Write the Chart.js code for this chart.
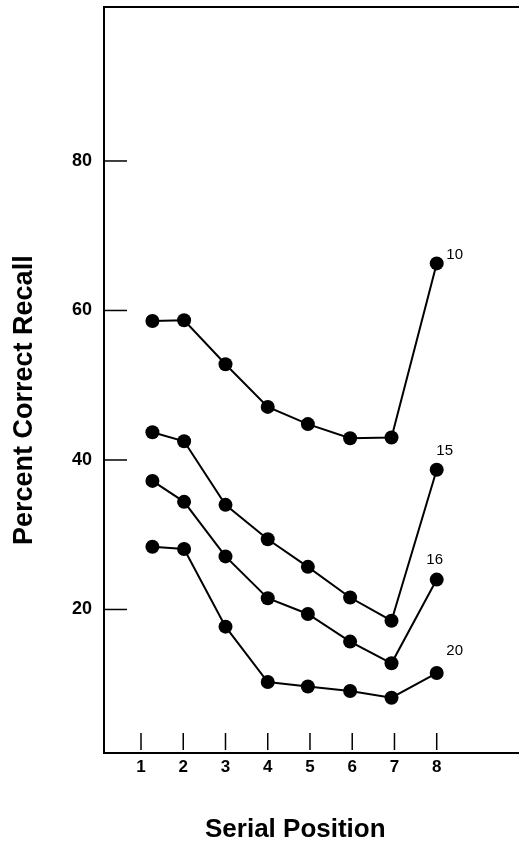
<!DOCTYPE html>
<html>
<head>
<meta charset="utf-8">
<script src="https://cdn.jsdelivr.net/npm/chart.js@4"></script>
<style>
  html, body { margin: 0; padding: 0; background: #fff; }
  canvas { display: block; }
</style>
</head>
<body>
<canvas id="recallChart" width="519" height="841"></canvas>
<script>
// Serial positions (first point sits a bit right of tick 1 in the original)
const positions = [1.27, 2.02, 3, 4, 4.95, 5.95, 6.93, 8];
const xTickValues = [1, 2, 3, 4, 5, 6, 7, 8];
const yTickValues = [20, 40, 60, 80];

// Percent correct recall, one list per list length
const listLengths = ['10', '15', '16', '20'];
const recall10 = [58.6, 58.7, 52.8, 47.1, 44.8, 42.9, 43.0, 66.3];
const recall15 = [43.7, 42.5, 34.0, 29.4, 25.7, 21.6, 18.5, 38.7];
const recall16 = [37.2, 34.4, 27.1, 21.5, 19.4, 15.7, 12.8, 24.0];
const recall20 = [28.4, 28.1, 17.7, 10.3, 9.7, 9.1, 8.2, 11.5];

const allSeries = [recall10, recall15, recall16, recall20];

// pixel offsets of the end labels from the last point
const labelOffsets = [[18, -9], [8, -19], [-2, -20], [18, -22]];

const FONT = 'Liberation Sans, Arial, Helvetica, sans-serif';

function toPoints(values) {
  return values.map((v, i) => ({ x: positions[i], y: v }));
}

// tick marks, top border, series labels and axis titles
const decorations = {
  id: 'decorations',
  afterDraw(chart) {
    const ctx = chart.ctx;
    const area = chart.chartArea;
    const xs = chart.scales.x;
    const ys = chart.scales.y;
    ctx.save();
    ctx.strokeStyle = '#000';
    ctx.fillStyle = '#000';

    // top border
    ctx.lineWidth = 2;
    ctx.beginPath();
    ctx.moveTo(area.left, area.top);
    ctx.lineTo(area.right, area.top);
    ctx.stroke();

    // x tick marks stand inside the plot, off the axis
    ctx.lineWidth = 1.5;
    xTickValues.forEach(v => {
      const px = xs.getPixelForValue(v);
      ctx.beginPath();
      ctx.moveTo(px, area.bottom - 20);
      ctx.lineTo(px, area.bottom - 3);
      ctx.stroke();
    });

    // y tick marks point inward
    yTickValues.forEach(v => {
      const py = ys.getPixelForValue(v);
      ctx.beginPath();
      ctx.moveTo(area.left, py);
      ctx.lineTo(area.left + 23, py);
      ctx.stroke();
    });

    // end labels
    ctx.font = '15px ' + FONT;
    ctx.textAlign = 'center';
    ctx.textBaseline = 'middle';
    allSeries.forEach((vals, i) => {
      const last = vals.length - 1;
      const px = xs.getPixelForValue(positions[last]);
      const py = ys.getPixelForValue(vals[last]);
      ctx.fillText(listLengths[i], px + labelOffsets[i][0], py + labelOffsets[i][1]);
    });

    // axis titles
    ctx.textAlign = 'left';
    ctx.textBaseline = 'alphabetic';
    ctx.font = 'bold 26px ' + FONT;
    ctx.fillText('Serial Position', 205, 837);

    ctx.font = 'bold 27px ' + FONT;
    ctx.translate(32, 545);
    ctx.rotate(-Math.PI / 2);
    ctx.fillText('Percent Correct Recall', 0, 0);
    ctx.restore();
  }
};

const ctx = document.getElementById('recallChart').getContext('2d');
const recallChart = new Chart(ctx, {
  type: 'line',
  data: {
    datasets: allSeries.map((vals, i) => ({
      label: listLengths[i],
      data: toPoints(vals),
      borderColor: '#000',
      backgroundColor: '#000',
      borderWidth: 2,
      pointRadius: 7,
      pointHoverRadius: 7,
      pointBackgroundColor: '#000',
      pointBorderWidth: 0,
      fill: false,
      tension: 0
    }))
  },
  options: {
    responsive: false,
    animation: false,
    events: [],
    layout: { autoPadding: false, padding: { top: 7, left: 0, right: 0, bottom: 0 } },
    plugins: {
      legend: { display: false },
      tooltip: { enabled: false }
    },
    scales: {
      x: {
        type: 'linear',
        min: 0.124,
        max: 9.948,
        afterBuildTicks: scale => {
          scale.ticks = xTickValues.map(v => ({ value: v }));
        },
        afterFit: scale => {
          scale.height = 88;
          scale.paddingLeft = 0;
          scale.paddingRight = 0;
        },
        grid: { display: false, drawTicks: false },
        border: { display: true, color: '#000', width: 2 },
        ticks: {
          color: '#000',
          padding: 4,
          maxRotation: 0,
          font: { family: FONT, size: 17, weight: 'bold' }
        }
      },
      y: {
        min: 0.8,
        max: 100.6,
        afterBuildTicks: scale => {
          scale.ticks = yTickValues.map(v => ({ value: v }));
        },
        afterFit: scale => {
          scale.width = 104;
          scale.paddingTop = 0;
          scale.paddingBottom = 0;
        },
        grid: { display: false, drawTicks: false },
        border: { display: true, color: '#000', width: 2 },
        ticks: {
          color: '#000',
          padding: 12,
          font: { family: FONT, size: 18, weight: 'bold' }
        }
      }
    }
  },
  plugins: [decorations]
});
</script>
</body>
</html>
